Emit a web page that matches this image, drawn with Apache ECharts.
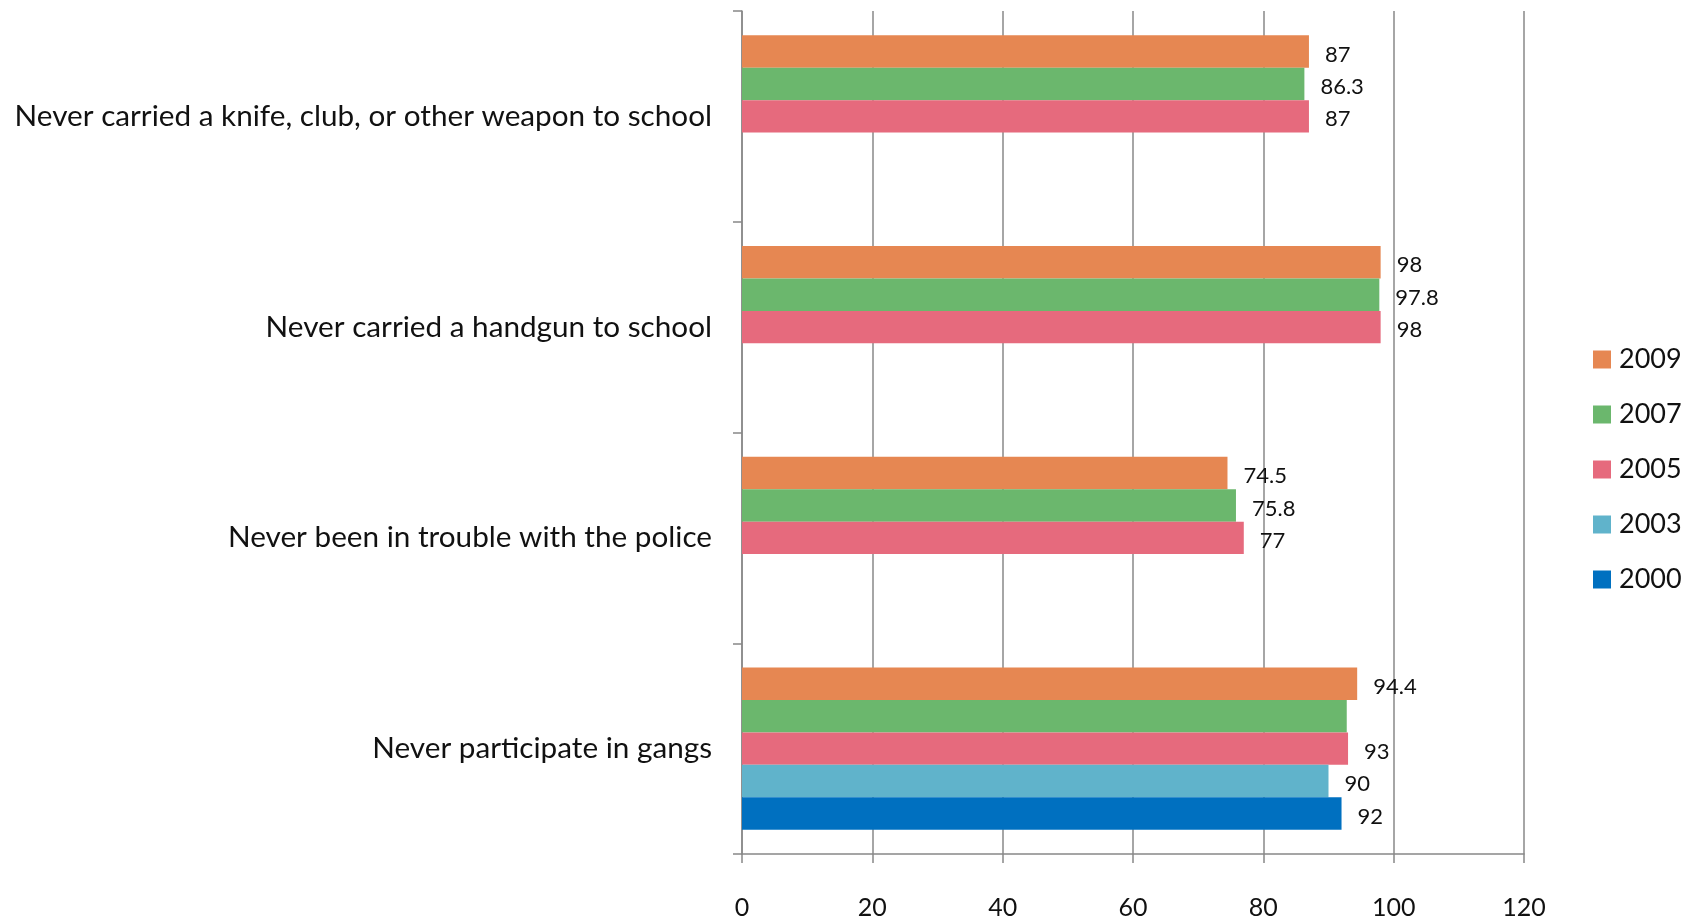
<!DOCTYPE html>
<html>
<head>
<meta charset="utf-8">
<script src="https://cdn.jsdelivr.net/npm/echarts@6/dist/echarts.min.js"></script>
<style>
html,body{margin:0;padding:0;background:#fff;}
#chart{width:1696px;height:920px;}
</style>
</head>
<body>
<div id="chart"></div>
<script>
// Categories listed bottom to top
const categories = [
  'Never participate in gangs',
  'Never been in trouble with the police',
  'Never carried a handgun to school',
  'Never carried a knife, club, or other weapon to school'
];
// Series listed top to bottom within each group
const years = ['2009', '2007', '2005', '2003', '2000'];
const v2009 = [94.4, 74.5, 98, 87];
const v2007 = [92.8, 75.8, 97.8, 86.3];
const v2005 = [93, 77, 98, 87];
const v2003 = [90, null, null, null];
const v2000 = [92, null, null, null];
const hiddenLabels = { '2007': [0] }; // gangs 2007 has no label in the reference
const xTicks = [0, 20, 40, 60, 80, 100, 120];

const colors = {
  '2000': '#0070C0',
  '2003': '#60B3CB',
  '2005': '#E66A7D',
  '2007': '#6BB76D',
  '2009': '#E68752'
};
const valuesByYear = { '2000': v2000, '2003': v2003, '2005': v2005, '2007': v2007, '2009': v2009 };
const FONT = 'Lato, "Open Sans", sans-serif';

const series = years.map(y => ({
  name: y,
  type: 'bar',
  barGap: '0%',
  barCategoryGap: '23%',
  itemStyle: { color: colors[y] },
  data: valuesByYear[y].map((v, i) => {
    const hide = (hiddenLabels[y] || []).includes(i);
    return hide ? { value: v, label: { show: false } } : v;
  }),
  label: {
    show: true,
    position: 'right',
    distance: 16,
    color: '#111',
    fontFamily: FONT,
    fontSize: 22,
    offset: [0, 3],
    formatter: p => p.value == null ? '' : String(p.value)
  }
}));

const chart = echarts.init(document.getElementById('chart'));
chart.setOption({
  animation: false,
  backgroundColor: '#fff',
  grid: { left: 742, right: 172, top: 11, bottom: 66, containLabel: false },
  legend: {
    data: ['2009', '2007', '2005', '2003', '2000'],
    orient: 'vertical',
    left: 1588,
    top: 341,
    itemWidth: 18,
    itemHeight: 18,
    itemGap: 28,
    icon: 'rect',
    textStyle: { fontFamily: FONT, fontSize: 27, color: '#111', padding: [0, 0, 0, 3] }
  },
  xAxis: {
    type: 'value',
    min: 0,
    max: 120,
    interval: 20,
    axisLine: { show: true, lineStyle: { color: '#888', width: 1.5 } },
    axisTick: { show: true, length: 9, lineStyle: { color: '#888', width: 1.5 } },
    splitLine: { show: true, lineStyle: { color: '#888', width: 1.5 } },
    axisLabel: {
      margin: 41,
      color: '#111',
      fontFamily: FONT,
      fontSize: 25,
      formatter: v => xTicks.includes(v) ? String(v) : ''
    }
  },
  yAxis: {
    type: 'category',
    data: categories,
    axisLine: { show: true, lineStyle: { color: '#888', width: 1.5 } },
    axisTick: { show: true, length: 9, lineStyle: { color: '#888', width: 1.5 } },
    axisLabel: {
      margin: 30,
      color: '#111',
      fontFamily: FONT,
      fontSize: 29.7
    }
  },
  series: series
});
</script>
</body>
</html>
